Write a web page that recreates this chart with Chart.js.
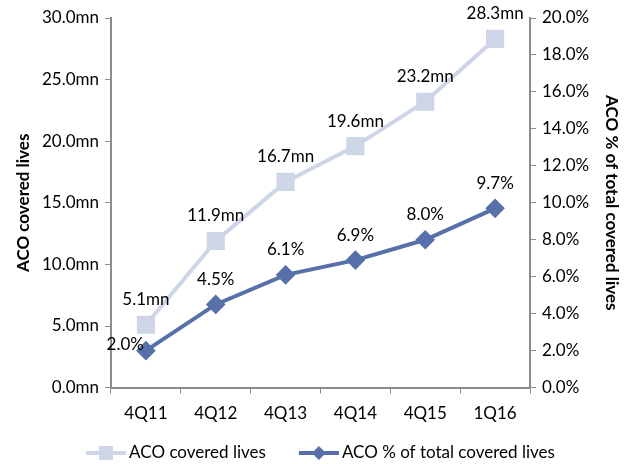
<!DOCTYPE html>
<html>
<head>
<meta charset="utf-8">
<script src="https://cdn.jsdelivr.net/npm/chart.js@4.4.1/dist/chart.umd.min.js"></script>
<style>
  html, body { margin: 0; padding: 0; background: #fff; }
  #wrap { width: 629px; height: 464px; }
</style>
</head>
<body>
<div id="wrap"><canvas id="chart" width="629" height="464"></canvas></div>
<script>
const quarters = ["4Q11", "4Q12", "4Q13", "4Q14", "4Q15", "1Q16"];
// covered lives, millions
const coveredLives = [5.1, 11.9, 16.7, 19.6, 23.2, 28.3];
// share of total covered lives, percent
const sharePct = [2.0, 4.5, 6.1, 6.9, 8.0, 9.7];

const livesLabel = "ACO covered lives";
const shareLabel = "ACO % of total covered lives";

const lightBlue = "#cdd5e7";
const darkBlue = "#5870aa";
const axisGray = "#8c8c8c";
const fontFamily = "Lato, 'Open Sans', sans-serif";

function drawMarker(ctx, style, x, y, color) {
  ctx.fillStyle = color;
  if (style === "rect") {
    ctx.fillRect(x - 7, y - 7, 14, 14);
  } else {
    ctx.beginPath();
    ctx.moveTo(x, y - 7);
    ctx.lineTo(x + 7, y);
    ctx.lineTo(x, y + 7);
    ctx.lineTo(x - 7, y);
    ctx.closePath();
    ctx.fill();
  }
}

// value labels above each point
const valueLabels = {
  id: "valueLabels",
  afterDatasetsDraw(chart) {
    const ctx = chart.ctx;
    ctx.save();
    ctx.font = "17px " + fontFamily;
    ctx.fillStyle = "#000";
    ctx.textBaseline = "middle";
    chart.data.datasets.forEach((ds, di) => {
      const meta = chart.getDatasetMeta(di);
      meta.data.forEach((pt, i) => {
        const v = ds.data[i];
        const text = di === 0 ? v.toFixed(1) + "mn" : v.toFixed(1) + "%";
        if (di === 1 && i === 0) {
          // first share label sits left of its point, clear of the lives marker
          ctx.textAlign = "right";
          ctx.fillText(text, pt.x - 2, pt.y - 6);
        } else {
          ctx.textAlign = "center";
          ctx.fillText(text, pt.x, pt.y - 25);
        }
      });
    });
    ctx.restore();
  },
};

// legend row under the axis: line swatch with marker, then the series name
const seriesLegend = {
  id: "seriesLegend",
  afterDraw(chart) {
    const ctx = chart.ctx;
    const swatch = 40, textGap = 3, itemGap = 33;
    const y = chart.height - 11;
    ctx.save();
    ctx.font = "17px " + fontFamily;
    ctx.textBaseline = "middle";
    ctx.textAlign = "left";
    const items = chart.data.datasets.map((ds) => ({
      ds,
      w: swatch + textGap + ctx.measureText(ds.label).width,
    }));
    const total = items.reduce((s, it) => s + it.w, 0) + itemGap * (items.length - 1);
    let x = (chart.chartArea.left + chart.chartArea.right) / 2 - total / 2;
    items.forEach(({ ds, w }) => {
      ctx.strokeStyle = ds.borderColor;
      ctx.lineWidth = 4;
      ctx.beginPath();
      ctx.moveTo(x, y);
      ctx.lineTo(x + swatch, y);
      ctx.stroke();
      drawMarker(ctx, ds.pointStyle, x + swatch / 2, y, ds.borderColor);
      ctx.fillStyle = "#000";
      ctx.fillText(ds.label, x + swatch + textGap, y);
      x += w + itemGap;
    });
    ctx.restore();
  },
};

const tickFont = { family: fontFamily, size: 17 };
const titleFont = { family: fontFamily, size: 17, weight: "bold" };

new Chart(document.getElementById("chart"), {
  type: "line",
  data: {
    labels: quarters,
    datasets: [
      {
        label: livesLabel,
        data: coveredLives,
        yAxisID: "y",
        borderColor: lightBlue,
        backgroundColor: lightBlue,
        borderWidth: 4,
        pointStyle: "rect",
        pointRadius: 10,
        pointHoverRadius: 10,
        tension: 0,
      },
      {
        label: shareLabel,
        data: sharePct,
        yAxisID: "y1",
        borderColor: darkBlue,
        backgroundColor: darkBlue,
        borderWidth: 4,
        pointStyle: "rectRot",
        pointRadius: 7,
        pointHoverRadius: 7,
        tension: 0,
      },
    ],
  },
  options: {
    responsive: false,
    animation: false,
    layout: { padding: { top: 18, left: 13, right: 7, bottom: 30 } },
    plugins: {
      legend: { display: false },
      tooltip: { enabled: false },
    },
    scales: {
      x: {
        offset: true,
        grid: {
          offset: true,
          drawOnChartArea: false,
          tickLength: 6,
          color: axisGray,
        },
        border: { color: axisGray, width: 2 },
        ticks: { font: tickFont, color: "#000", padding: 10 },
      },
      y: {
        position: "left",
        min: 0,
        max: 30,
        afterFit(scale) { scale.width = 98; },
        ticks: {
          stepSize: 5,
          font: tickFont,
          color: "#000",
          padding: 6,
          callback: (v) => v.toFixed(1) + "mn",
        },
        grid: { drawOnChartArea: false, tickLength: 6, color: axisGray },
        border: { color: axisGray, width: 2 },
        title: { display: true, text: livesLabel, font: titleFont, color: "#000", padding: 0 },
      },
      y1: {
        position: "right",
        min: 0,
        max: 20,
        afterFit(scale) { scale.width = 92; },
        ticks: {
          stepSize: 2,
          font: tickFont,
          color: "#000",
          padding: 6,
          callback: (v) => v.toFixed(1) + "%",
        },
        grid: { drawOnChartArea: false, tickLength: 6, color: axisGray },
        border: { color: axisGray, width: 2 },
        title: { display: true, text: shareLabel, font: titleFont, color: "#000", padding: 0 },
      },
    },
  },
  plugins: [valueLabels, seriesLegend],
});
</script>
</body>
</html>
